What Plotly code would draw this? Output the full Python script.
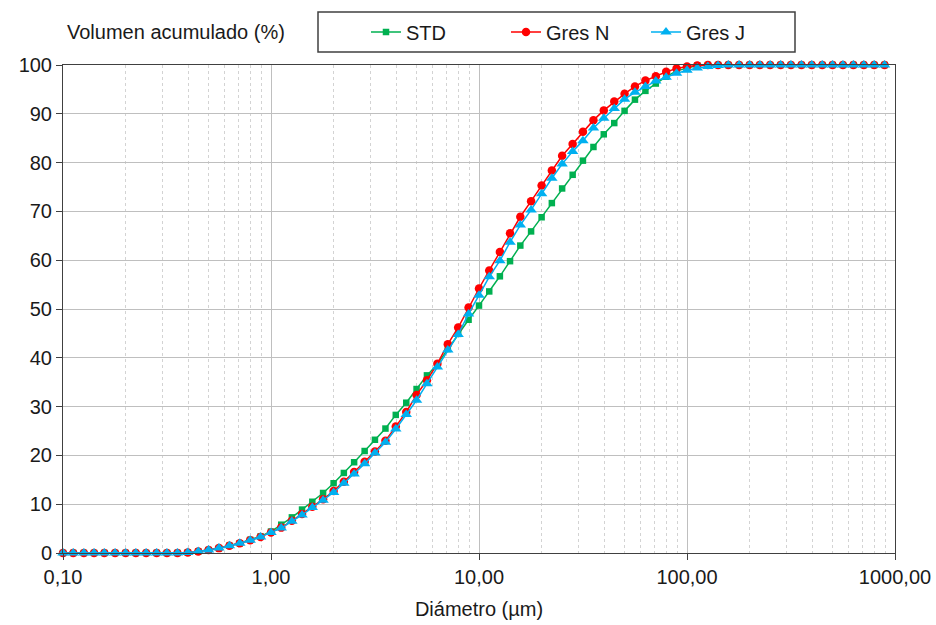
import plotly.graph_objects as go

diametro = [0.100, 0.112, 0.126, 0.141, 0.158, 0.178, 0.200, 0.224, 0.251, 0.282,
            0.316, 0.355, 0.398, 0.447, 0.501, 0.562, 0.631, 0.708, 0.794, 0.891,
            1.00, 1.12, 1.26, 1.41, 1.58, 1.78, 2.00, 2.24, 2.51, 2.82,
            3.16, 3.55, 3.98, 4.47, 5.01, 5.62, 6.31, 7.08, 7.94, 8.91,
            10.0, 11.2, 12.6, 14.1, 15.8, 17.8, 20.0, 22.4, 25.1, 28.2,
            31.6, 35.5, 39.8, 44.7, 50.1, 56.2, 63.1, 70.8, 79.4, 89.1,
            100, 112, 126, 141, 158, 178, 200, 224, 251, 282,
            316, 355, 398, 447, 501, 562, 631, 708, 794, 891]

std = [0, 0, 0, 0, 0, 0, 0, 0, 0, 0, 0, 0,
       0.1, 0.3, 0.6, 1.0, 1.5, 2.0, 2.7, 3.4, 4.4, 5.8, 7.3, 8.9, 10.5, 12.3,
       14.3, 16.4, 18.6, 20.9, 23.2, 25.5, 28.3, 30.8, 33.6, 36.4, 38.7, 41.8,
       44.9, 47.8, 50.7, 53.6, 56.7, 59.8, 63.0, 65.9, 68.8, 71.7, 74.7, 77.5,
       80.4, 83.2, 85.8, 88.1, 90.6, 92.9, 94.7, 96.2, 97.6, 98.8, 99.4, 99.9,
       100, 100, 100, 100, 100, 100, 100, 100, 100, 100, 100, 100, 100, 100, 100, 100, 100, 100]

gres_n = [0, 0, 0, 0, 0, 0, 0, 0, 0, 0, 0, 0,
          0.1, 0.3, 0.6, 1.0, 1.5, 2.0, 2.6, 3.3, 4.2, 5.2, 6.6, 8.0, 9.5, 11.0,
          12.7, 14.6, 16.6, 18.7, 20.8, 23.0, 25.9, 28.9, 32.4, 35.4, 38.8, 42.8,
          46.2, 50.3, 54.2, 57.9, 61.7, 65.5, 68.9, 72.1, 75.3, 78.4, 81.4, 83.8,
          86.3, 88.7, 90.7, 92.5, 94.1, 95.6, 96.8, 97.7, 98.6, 99.3, 99.7, 99.9,
          100, 100, 100, 100, 100, 100, 100, 100, 100, 100, 100, 100, 100, 100, 100, 100, 100, 100]

gres_j = [0, 0, 0, 0, 0, 0, 0, 0, 0, 0, 0, 0,
          0.1, 0.3, 0.6, 1.0, 1.5, 2.0, 2.6, 3.3, 4.2, 5.1, 6.5, 7.8, 9.3, 10.8,
          12.4, 14.3, 16.2, 18.3, 20.5, 22.7, 25.4, 28.4, 31.3, 34.7, 38.1, 41.6,
          44.8, 49.0, 52.8, 56.6, 59.9, 63.7, 67.2, 70.3, 73.6, 76.8, 79.7, 82.3,
          84.5, 87.1, 89.1, 91.1, 93.0, 94.4, 95.6, 96.7, 97.5, 98.3, 98.9, 99.4,
          99.7, 99.9,
          100, 100, 100, 100, 100, 100, 100, 100, 100, 100, 100, 100, 100, 100, 100, 100]

x_tickvals = [0.1, 1, 10, 100, 1000]
x_ticktext = ["0,10", "1,00", "10,00", "100,00", "1000,00"]

FONT = "Liberation Sans, Arial, sans-serif"
FS = 20
TXT = "#1a1a1a"

ML, MR, MT, MB = 63, 41, 65, 72
PW = 936 - ML - MR
PH = 625 - MT - MB


def px_x(p):
    return (p - ML) / PW


def px_y(p):
    return 1 + (MT - p) / PH


fig = go.Figure()
fig.add_trace(go.Scatter(x=diametro, y=std, name="STD", mode="lines+markers",
                         line=dict(color="#00B050", width=1.5),
                         marker=dict(symbol="square", size=6.5, color="#00B050"),
                         cliponaxis=False))
fig.add_trace(go.Scatter(x=diametro, y=gres_n, name="Gres N", mode="lines+markers",
                         line=dict(color="#FF0000", width=1.5),
                         marker=dict(symbol="circle", size=8.5, color="#FF0000"),
                         cliponaxis=False))
fig.add_trace(go.Scatter(x=diametro, y=gres_j, name="Gres J", mode="lines+markers",
                         line=dict(color="#00B0F0", width=1.5),
                         marker=dict(symbol="triangle-up", size=10, color="#00B0F0"),
                         cliponaxis=False))

minor_vals = [m * 10 ** e for e in range(-1, 3) for m in range(2, 10)]

fig.update_layout(
    width=936, height=625,
    margin=dict(l=ML, r=MR, t=MT, b=MB, autoexpand=False),
    paper_bgcolor="white", plot_bgcolor="white",
    font=dict(family=FONT, size=FS, color=TXT),
    showlegend=True,
    legend=dict(orientation="h", x=px_x(366), y=px_y(32), xanchor="left", yanchor="middle",
                borderwidth=0, bgcolor="rgba(0,0,0,0)",
                font=dict(family=FONT, size=FS, color=TXT),
                entrywidth=95, itemwidth=30),
    xaxis=dict(type="log", range=[-1, 3], automargin=False,
               tickvals=x_tickvals, ticktext=x_ticktext,
               ticks="outside", ticklen=6, tickcolor="#404040",
               showline=True, linecolor="#404040", linewidth=1, mirror=True,
               showgrid=True, gridcolor="#BFBFBF", gridwidth=1,
               minor=dict(tickvals=minor_vals, showgrid=True, gridcolor="#D3D3D3",
                          griddash="dot", gridwidth=1, ticks=""),
               title=dict(text="Diámetro (µm)", font=dict(family=FONT, size=FS), standoff=14),
               zeroline=False),
    yaxis=dict(range=[0, 100], dtick=10, automargin=False,
               ticks="outside", ticklen=6, tickcolor="#404040",
               showline=True, linecolor="#404040", linewidth=1, mirror=True,
               showgrid=True, gridcolor="#BFBFBF", gridwidth=1,
               zeroline=False),
    shapes=[dict(type="rect", xref="paper", yref="paper",
                 x0=px_x(318), x1=px_x(795), y0=px_y(52), y1=px_y(12),
                 line=dict(color="#404040", width=1.5), fillcolor="rgba(0,0,0,0)", layer="above")],
    annotations=[dict(text="Volumen acumulado (%)", xref="paper", yref="paper",
                      x=px_x(65), y=px_y(32), xanchor="left", yanchor="middle", showarrow=False,
                      font=dict(family=FONT, size=FS, color=TXT))],
)

fig.write_html("out.html")
